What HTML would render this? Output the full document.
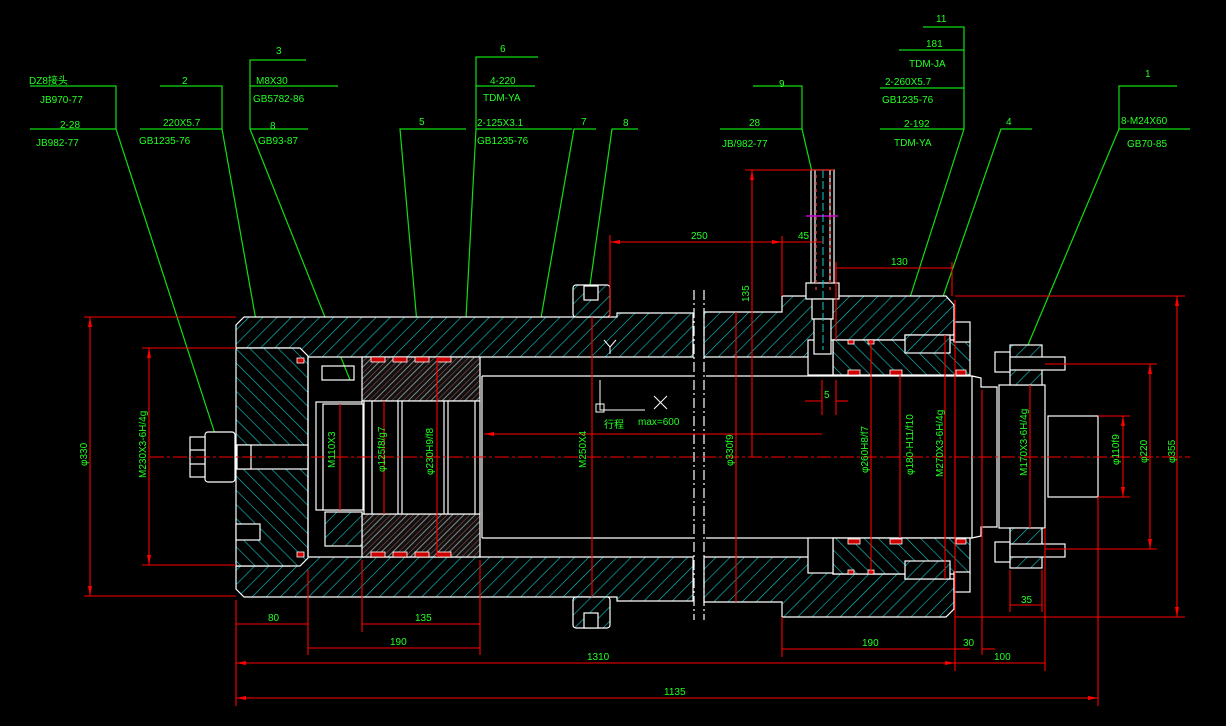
<!DOCTYPE html>
<html><head><meta charset="utf-8"><style>
html,body{margin:0;padding:0;background:#000;}
svg{display:block}
text{font-family:"Liberation Sans","Noto Sans CJK SC",sans-serif;fill:#2f2;font-size:10px}
</style></head><body>
<svg width="1226" height="726" viewBox="0 0 1226 726" xmlns="http://www.w3.org/2000/svg">
<defs>
<pattern id="h" patternUnits="userSpaceOnUse" width="10" height="10" patternTransform="rotate(45)">
<rect width="10" height="10" fill="#000"/><line x1="0" y1="0" x2="0" y2="10" stroke="#1cc" stroke-width="1.2"/></pattern>
<pattern id="h2" patternUnits="userSpaceOnUse" width="10" height="10" patternTransform="rotate(-45)">
<rect width="10" height="10" fill="#000"/><line x1="0" y1="0" x2="0" y2="10" stroke="#1cc" stroke-width="1.2"/></pattern>
<pattern id="hr" patternUnits="userSpaceOnUse" width="8" height="8" patternTransform="rotate(45)">
<rect width="8" height="8" fill="#111"/><line x1="0" y1="0" x2="0" y2="8" stroke="#a55" stroke-width="1"/><line x1="4" y1="0" x2="4" y2="8" stroke="#888" stroke-width="1"/></pattern>
</defs>

<!-- GREEN LEADERS -->
<g stroke="#1d1" stroke-width="1.2" fill="none">
<polyline points="30,86 116,86 116,129 30,129"/><line x1="116" y1="129" x2="217" y2="440"/>
<polyline points="160,86 222,86 222,129 140,129"/><line x1="222" y1="129" x2="263" y2="360"/>
<polyline points="306,60 250,60 250,129 308,129"/><line x1="250" y1="86" x2="338" y2="86"/><line x1="250" y1="129" x2="350" y2="380"/>
<polyline points="466,129 400,129 425,415"/>
<polyline points="538,57 476,57 476,129 572,129"/><line x1="476" y1="86" x2="535" y2="86"/><line x1="476" y1="129" x2="463" y2="375"/>
<polyline points="596,129 574,129 538,335"/>
<polyline points="638,129 612,129 590,285"/>
<polyline points="753,86 802,86 802,129 720,129"/><line x1="802" y1="129" x2="812" y2="172"/>
<polyline points="923,27 964,27 964,129 880,129"/><line x1="899" y1="50" x2="964" y2="50"/><line x1="880" y1="88" x2="964" y2="88"/><line x1="964" y1="129" x2="890" y2="360"/>
<polyline points="1032,129 1001,129 928,340"/>
<polyline points="1177,86 1119,86 1119,129 1190,129"/><line x1="1119" y1="129" x2="1025" y2="352"/>
</g>
<g>
<text x="29" y="84" font-size="9">DZ8接头</text><text x="40" y="103">JB970-77</text><text x="60" y="128">2-28</text><text x="36" y="146">JB982-77</text>
<text x="182" y="84">2</text><text x="163" y="126">220X5.7</text><text x="139" y="144">GB1235-76</text>
<text x="276" y="54">3</text><text x="256" y="84">M8X30</text><text x="253" y="102">GB5782-86</text><text x="270" y="129">8</text><text x="258" y="144">GB93-87</text>
<text x="419" y="125">5</text>
<text x="500" y="52">6</text><text x="490" y="84">4-220</text><text x="483" y="101">TDM-YA</text><text x="477" y="126">2-125X3.1</text><text x="477" y="144">GB1235-76</text>
<text x="581" y="125">7</text><text x="623" y="126">8</text>
<text x="779" y="87">9</text><text x="749" y="126">28</text><text x="722" y="147">JB/982-77</text>
<text x="936" y="22">11</text><text x="926" y="47">181</text><text x="909" y="67">TDM-JA</text><text x="885" y="85">2-260X5.7</text><text x="882" y="103">GB1235-76</text><text x="904" y="127">2-192</text><text x="894" y="146">TDM-YA</text>
<text x="1006" y="125">4</text><text x="1145" y="77">1</text><text x="1121" y="124">8-M24X60</text><text x="1127" y="147">GB70-85</text>
</g>

<!-- BODY -->
<g stroke="#fff" stroke-width="1.2">
<!-- barrel walls -->
<polygon fill="url(#h)" points="244,317 617,317 617,313 693,313 693,357 290,357 290,348 236,348 236,325"/>
<polygon fill="url(#h)" points="244,597 617,597 617,601 693,601 693,557 290,557 290,566 236,566 236,589"/>
<!-- end cap -->
<polygon fill="url(#h2)" points="236,348 300,348 308,356 308,558 300,566 236,566"/>
<rect x="236" y="445" width="72" height="24" fill="#000"/>
<rect x="236" y="524" width="24" height="16" fill="#000"/>
<!-- left fitting -->
<rect x="205" y="432" width="30" height="50" rx="3" fill="#000"/>
<rect x="190" y="437" width="15" height="40" fill="#000"/>
<line x1="190" y1="450" x2="205" y2="450"/><line x1="190" y1="464" x2="205" y2="464"/>
<rect x="237" y="445" width="14" height="24" fill="#000"/>
<!-- collars -->
<rect x="573" y="285" width="37" height="32" rx="3" fill="url(#h)"/>
<rect x="573" y="597" width="37" height="31" rx="3" fill="url(#h)"/>
<rect x="584" y="286" width="14" height="14" fill="#000"/><rect x="584" y="613" width="14" height="15" fill="#000"/>
<!-- piston -->
<rect x="362" y="357" width="118" height="44" fill="url(#hr)"/>
<rect x="362" y="514" width="118" height="43" fill="url(#hr)"/>
<rect x="316" y="402" width="46" height="108" fill="#000"/>
<rect x="323" y="404" width="40" height="106" fill="#000"/>
<rect x="364" y="401" width="116" height="113" fill="#000"/>
<line x1="372" y1="401" x2="372" y2="514"/><line x1="398" y1="401" x2="398" y2="514"/><line x1="402" y1="401" x2="402" y2="514"/><line x1="444" y1="401" x2="444" y2="514"/><line x1="448" y1="401" x2="448" y2="514"/><line x1="475" y1="401" x2="475" y2="514"/>
<rect x="325" y="512" width="37" height="34" fill="url(#h)"/>
<rect x="322" y="366" width="32" height="14" fill="none"/>
<line x1="308" y1="357" x2="308" y2="557"/>
<!-- rod -->
<line x1="482" y1="376" x2="693" y2="376"/><line x1="482" y1="538" x2="693" y2="538"/>
<line x1="482" y1="376" x2="482" y2="538"/>
<line x1="706" y1="376" x2="972" y2="376"/><line x1="706" y1="538" x2="972" y2="538"/>
<!-- right part -->
<polygon fill="url(#h)" points="704,312 782,312 782,296 946,296 954,305 954,335 905,335 905,340 833,340 833,357 704,357"/>
<polygon fill="url(#h)" points="704,602 782,602 782,617 946,617 954,609 954,579 905,579 905,574 833,574 833,557 704,557"/>
<polygon fill="url(#h2)" points="833,340 970,340 970,375 833,375"/>
<polygon fill="url(#h2)" points="833,538 970,538 970,574 833,574"/>
<rect x="905" y="335" width="45" height="18" fill="url(#h)"/>
<rect x="905" y="561" width="45" height="18" fill="url(#h)"/>
<rect x="954" y="322" width="16" height="20" fill="#000"/><rect x="954" y="572" width="16" height="20" fill="#000"/>
<rect x="808" y="340" width="25" height="35" fill="#000"/><rect x="808" y="538" width="25" height="35" fill="#000"/>
<!-- rod end -->
<polygon fill="#000" points="972,376 981,378 981,387 997,387 997,527 981,527 981,536 972,538"/>
<rect x="999" y="385" width="46" height="143" fill="#000"/>
<rect x="1048" y="416" width="50" height="81" fill="#000"/>
<rect x="1010" y="345" width="32" height="40" fill="url(#h)"/>
<rect x="1010" y="528" width="32" height="40" fill="url(#h)"/>
<rect x="995" y="352" width="15" height="20" fill="#000"/><rect x="1010" y="357" width="55" height="13" fill="#000"/>
<rect x="995" y="542" width="15" height="20" fill="#000"/><rect x="1010" y="544" width="55" height="13" fill="#000"/>
<!-- pipe -->
<rect x="811" y="170" width="23" height="120" fill="#000"/>
<line x1="815" y1="170" x2="815" y2="290"/><line x1="830" y1="170" x2="830" y2="290"/>
<rect x="806" y="283" width="33" height="16" fill="#000"/>
<rect x="812" y="299" width="21" height="20" fill="#000"/>
<rect x="814" y="319" width="17" height="35" fill="#000"/>
<!-- break lines -->
<line x1="694" y1="290" x2="694" y2="620" stroke-dasharray="10,3,2,3"/>
<line x1="704" y1="290" x2="704" y2="620" stroke-dasharray="10,3,2,3"/>
</g>
<!-- seals -->
<g fill="#c00" stroke="#fff" stroke-width="0.8">
<rect x="371" y="357" width="14" height="5"/><rect x="393" y="357" width="14" height="5"/><rect x="415" y="357" width="14" height="5"/><rect x="437" y="357" width="14" height="5"/>
<rect x="371" y="552" width="14" height="5"/><rect x="393" y="552" width="14" height="5"/><rect x="415" y="552" width="14" height="5"/><rect x="437" y="552" width="14" height="5"/>
<rect x="297" y="358" width="7" height="5"/><rect x="297" y="552" width="7" height="5"/>
<rect x="848" y="370" width="12" height="5"/><rect x="890" y="370" width="12" height="5"/><rect x="956" y="370" width="10" height="5"/>
<rect x="848" y="539" width="12" height="5"/><rect x="890" y="539" width="12" height="5"/><rect x="956" y="539" width="10" height="5"/>
<rect x="848" y="340" width="6" height="4"/><rect x="868" y="340" width="6" height="4"/>
<rect x="848" y="570" width="6" height="4"/><rect x="868" y="570" width="6" height="4"/>
</g>
<g stroke="#c33" stroke-width="1.5"><line x1="816" y1="175" x2="816" y2="290" stroke-dasharray="3,4"/><line x1="830" y1="175" x2="830" y2="290" stroke-dasharray="3,4"/></g>
<line x1="806" y1="216" x2="838" y2="216" stroke="#c0c" stroke-width="1.5"/>
<line x1="823" y1="170" x2="823" y2="350" stroke="#1cc" stroke-dasharray="8,3"/>

<!-- RED DIMENSIONS -->
<g stroke="#f00" stroke-width="1.1" fill="none">
<line x1="150" y1="457" x2="1190" y2="457" stroke-dasharray="14,3,3,3"/>
<line x1="84" y1="317" x2="236" y2="317"/><line x1="84" y1="596" x2="236" y2="596"/><line x1="90" y1="317" x2="90" y2="596"/>
<line x1="142" y1="348" x2="236" y2="348"/><line x1="142" y1="565" x2="236" y2="565"/><line x1="149" y1="348" x2="149" y2="565"/>
<line x1="236" y1="600" x2="236" y2="706"/><line x1="308" y1="570" x2="308" y2="655"/><line x1="362" y1="560" x2="362" y2="632"/><line x1="480" y1="560" x2="480" y2="655"/>
<line x1="782" y1="617" x2="782" y2="657"/><line x1="955" y1="300" x2="955" y2="671"/><line x1="982" y1="390" x2="982" y2="655"/><line x1="1045" y1="528" x2="1045" y2="671"/><line x1="1098" y1="497" x2="1098" y2="706"/>
<line x1="236" y1="624" x2="308" y2="624"/><line x1="362" y1="624" x2="480" y2="624"/>
<line x1="308" y1="648" x2="480" y2="648"/><line x1="782" y1="649" x2="955" y2="649"/><line x1="955" y1="649" x2="970" y2="649"/><line x1="982" y1="649" x2="995" y2="649"/>
<line x1="236" y1="663" x2="955" y2="663"/><line x1="955" y1="663" x2="1045" y2="663"/>
<line x1="236" y1="698" x2="1098" y2="698"/>
<line x1="1010" y1="570" x2="1010" y2="612"/><line x1="1042" y1="570" x2="1042" y2="612"/><line x1="1010" y1="605" x2="1042" y2="605"/>
<line x1="955" y1="296" x2="1185" y2="296"/><line x1="955" y1="617" x2="1185" y2="617"/><line x1="1177" y1="296" x2="1177" y2="617"/>
<line x1="1045" y1="364" x2="1157" y2="364"/><line x1="1045" y1="549" x2="1157" y2="549"/><line x1="1150" y1="364" x2="1150" y2="549"/>
<line x1="1098" y1="416" x2="1130" y2="416"/><line x1="1098" y1="497" x2="1130" y2="497"/><line x1="1123" y1="416" x2="1123" y2="497"/>
<line x1="610" y1="235" x2="610" y2="317"/><line x1="782" y1="236" x2="782" y2="296"/><line x1="610" y1="242" x2="823" y2="242"/>
<line x1="836" y1="262" x2="836" y2="340"/><line x1="952" y1="262" x2="952" y2="296"/><line x1="836" y1="268" x2="952" y2="268"/>
<line x1="745" y1="170" x2="834" y2="170"/><line x1="752" y1="170" x2="752" y2="457"/>
<line x1="736" y1="312" x2="736" y2="602"/><line x1="592" y1="317" x2="592" y2="597"/>
<line x1="871" y1="340" x2="871" y2="574"/><line x1="900" y1="375" x2="900" y2="538"/><line x1="945" y1="335" x2="945" y2="579"/><line x1="1030" y1="385" x2="1030" y2="528"/>
<line x1="437" y1="357" x2="437" y2="557"/><line x1="384" y1="401" x2="384" y2="514"/><line x1="340" y1="404" x2="340" y2="510"/>
<line x1="484" y1="434" x2="822" y2="434"/>
<line x1="805" y1="401" x2="822" y2="401"/><line x1="836" y1="401" x2="848" y2="401"/><line x1="822" y1="380" x2="822" y2="415"/><line x1="836" y1="380" x2="836" y2="415"/>
</g>
<g fill="#f00">
<polygon points="90,317 88,327 92,327"/><polygon points="90,596 88,586 92,586"/>
<polygon points="149,348 147,358 151,358"/><polygon points="149,565 147,555 151,555"/>
<polygon points="1177,296 1175,306 1179,306"/><polygon points="1177,617 1175,607 1179,607"/>
<polygon points="1150,364 1148,374 1152,374"/><polygon points="1150,549 1148,539 1152,539"/>
<polygon points="1123,416 1121,426 1125,426"/><polygon points="1123,497 1121,487 1125,487"/>
<polygon points="236,698 246,696 246,700"/><polygon points="1098,698 1088,696 1088,700"/>
<polygon points="236,663 246,661 246,665"/><polygon points="955,663 945,661 945,665"/>
<polygon points="610,242 620,240 620,244"/><polygon points="782,242 772,240 772,244"/>
<polygon points="484,434 494,432 494,436"/><polygon points="752,170 750,180 754,180"/>
</g>
<!-- misc marks -->
<g stroke="#fff" stroke-width="1" fill="none">
<polyline points="600,380 600,410 645,410"/><rect x="596" y="404" width="8" height="8"/>
<line x1="654" y1="396" x2="667" y2="409"/><line x1="667" y1="396" x2="654" y2="409"/>
<polyline points="604,340 610,347 616,340"/><line x1="610" y1="347" x2="610" y2="354"/>
</g>
<!-- dim texts -->
<g font-size="8">
<text x="268" y="621">80</text><text x="415" y="621">135</text><text x="390" y="645">190</text><text x="862" y="646">190</text>
<text x="587" y="660">1310</text><text x="664" y="695">1135</text><text x="963" y="646">30</text><text x="994" y="660">100</text><text x="1021" y="603">35</text>
<text x="691" y="239">250</text><text x="798" y="239">45</text><text x="891" y="265">130</text><text x="824" y="398">5</text>
<text x="638" y="425">max=600</text><text x="604" y="428" font-size="7">行程</text>
<text transform="translate(87,466) rotate(-90)">φ330</text>
<text transform="translate(146,478) rotate(-90)">M230X3-6H/4g</text>
<text transform="translate(335,468) rotate(-90)">M110X3</text>
<text transform="translate(385,472) rotate(-90)">φ125f8/g7</text>
<text transform="translate(433,475) rotate(-90)">φ230H9/f8</text>
<text transform="translate(586,468) rotate(-90)">M250X4</text>
<text transform="translate(733,466) rotate(-90)">φ330f9</text>
<text transform="translate(868,473) rotate(-90)">φ260H8/f7</text>
<text transform="translate(913,475) rotate(-90)">φ180-H11/f10</text>
<text transform="translate(943,477) rotate(-90)">M270X3-6H/4g</text>
<text transform="translate(1027,476) rotate(-90)">M170X3-6H/4g</text>
<text transform="translate(1119,465) rotate(-90)">φ110f9</text>
<text transform="translate(1147,463) rotate(-90)">φ220</text>
<text transform="translate(1175,463) rotate(-90)">φ355</text>
<text transform="translate(749,302) rotate(-90)">135</text>
</g>
</svg>
</body></html>
